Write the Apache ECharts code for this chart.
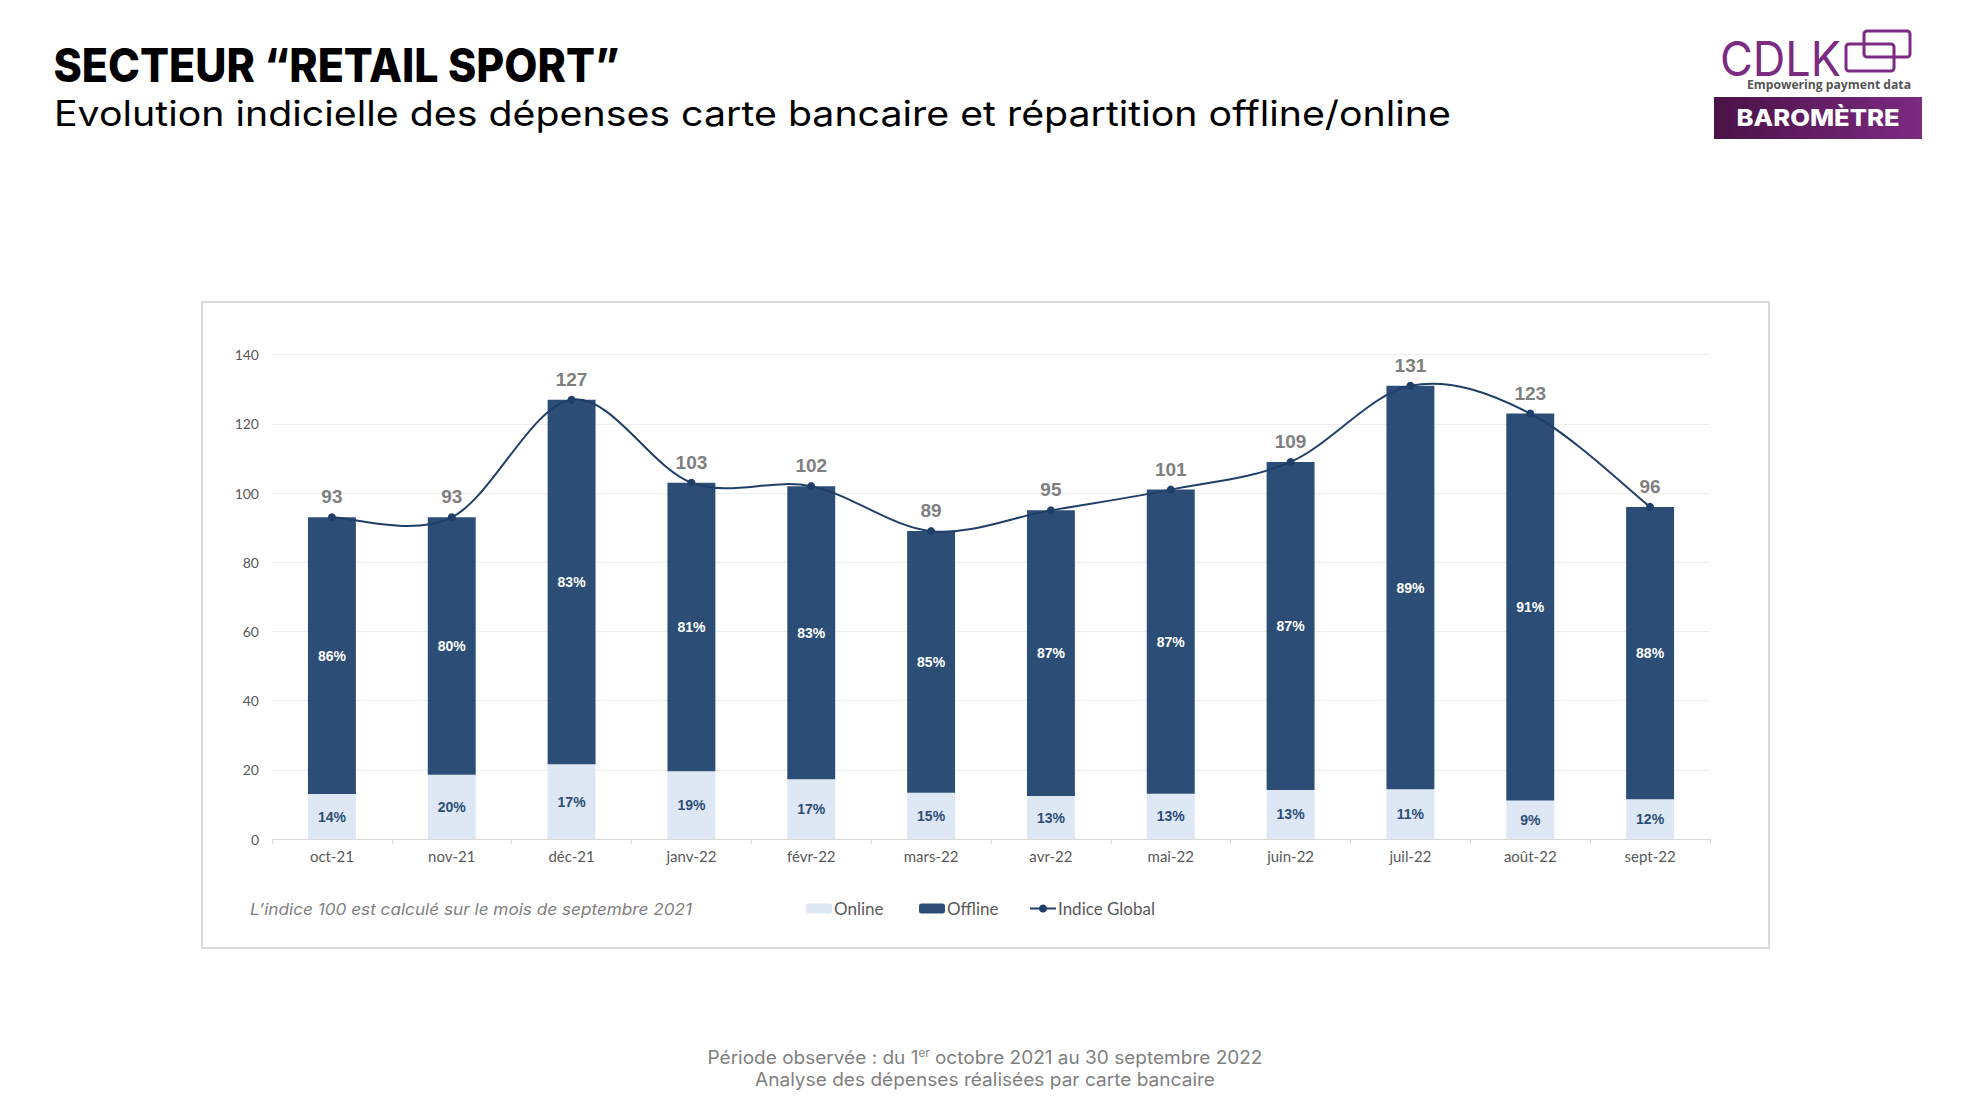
<!DOCTYPE html>
<html>
<head>
<meta charset="utf-8">
<script src="https://cdn.jsdelivr.net/npm/echarts@6/dist/echarts.min.js"></script>
<style>
  html, body { margin: 0; padding: 0; background: #ffffff; }
  #page { position: relative; width: 1972px; height: 1110px; overflow: hidden; }
  #deco { position: absolute; left: 0; top: 0; }
  #chart { position: absolute; left: 0; top: 0; width: 1972px; height: 1110px; }
</style>
</head>
<body>
<div id="page">
  <svg id="deco" width="1972" height="1110" xmlns="http://www.w3.org/2000/svg">
    <defs>
      <linearGradient id="baro" x1="0" y1="0" x2="1" y2="0">
        <stop offset="0" stop-color="#4a1246"/>
        <stop offset="1" stop-color="#7c2a82"/>
      </linearGradient>
    </defs>
    <!-- Titles -->
    <text x="53.5" y="81.5" font-family="Inter, 'Open Sans', sans-serif" font-weight="800" font-size="46" fill="#000" textLength="566" lengthAdjust="spacingAndGlyphs">SECTEUR “RETAIL SPORT”</text>
    <text x="54" y="125.7" font-family="Inter, 'Open Sans', sans-serif" font-weight="400" font-size="35" fill="#000" textLength="1397" lengthAdjust="spacingAndGlyphs">Evolution indicielle des dépenses carte bancaire et répartition offline/online</text>
    <!-- Logo -->
    <text x="1720" y="76" font-family="Inter, 'Open Sans', sans-serif" font-weight="400" font-size="48" fill="#7b2b83" textLength="121" lengthAdjust="spacingAndGlyphs">CDLK</text>
    <rect x="1846" y="44" width="48" height="27" rx="3" fill="none" stroke="#7b2b83" stroke-width="3"/>
    <rect x="1864" y="31" width="46" height="26" rx="3" fill="none" stroke="#7b2b83" stroke-width="3"/>
    <text x="1747" y="89" font-family="'Open Sans', Inter, sans-serif" font-weight="700" font-size="12" fill="#555555" textLength="164" lengthAdjust="spacingAndGlyphs">Empowering payment data</text>
    <rect x="1714" y="97" width="208" height="42" fill="url(#baro)"/>
    <text x="1818" y="126" text-anchor="middle" font-family="Inter, 'Open Sans', sans-serif" font-weight="800" font-size="23" fill="#ffffff" textLength="163" lengthAdjust="spacingAndGlyphs">BAROMÈTRE</text>
    <!-- Chart frame -->
    <rect x="202" y="302" width="1567" height="646" fill="none" stroke="#d9d9d9" stroke-width="2"/>
    <!-- Note -->
    <text x="250" y="915" font-family="Inter, 'Open Sans', sans-serif" font-style="italic" font-size="16" fill="#7f7f7f" textLength="442" lengthAdjust="spacingAndGlyphs">L’indice 100 est calculé sur le mois de septembre 2021</text>
    <!-- Footer -->
    <text x="985" y="1064" text-anchor="middle" font-family="Inter, 'Open Sans', sans-serif" font-size="18" fill="#7f7f7f" textLength="555" lengthAdjust="spacingAndGlyphs">Période observée : du 1<tspan font-size="11" dy="-7">er</tspan><tspan dy="7"> octobre 2021 au 30 septembre 2022</tspan></text>
    <text x="985" y="1085.5" text-anchor="middle" font-family="Inter, 'Open Sans', sans-serif" font-size="18" fill="#7f7f7f" textLength="460" lengthAdjust="spacingAndGlyphs">Analyse des dépenses réalisées par carte bancaire</text>
  </svg>
  <div id="chart"></div>
</div>
<script>
// ---- Data ----
const categories = ['oct-21', 'nov-21', 'déc-21', 'janv-22', 'févr-22', 'mars-22', 'avr-22', 'mai-22', 'juin-22', 'juil-22', 'août-22', 'sept-22'];
const indiceGlobal = [93, 93, 127, 103, 102, 89, 95, 101, 109, 131, 123, 96];
const onlineValues = [13.0, 18.6, 21.6, 19.6, 17.3, 13.4, 12.4, 13.1, 14.2, 14.4, 11.1, 11.5];
const offlineValues = [80.0, 74.4, 105.4, 83.4, 84.7, 75.6, 82.6, 87.9, 94.8, 116.6, 111.9, 84.5];
const onlineShare = [14, 20, 17, 19, 17, 15, 13, 13, 13, 11, 9, 12];
const offlineShare = [86, 80, 83, 81, 83, 85, 87, 87, 87, 89, 91, 88];
const yAxisMin = 0, yAxisMax = 140, yAxisStep = 20;

const seriesNames = ['Online', 'Offline', 'Indice Global'];
const colOnline = '#dee8f4', colOffline = '#2c4e76', colLine = '#203f68';
const axisFont = 'Lato, "Noto Sans", sans-serif';
const labelFont = '"Liberation Sans Narrow", "Liberation Sans", sans-serif';
const nPts = indiceGlobal.length;

// Spreadsheet-style smoothed curve (Catmull-Rom Bezier), each segment from point i to i+1,
// positioned through the chart's own coordinate system.
function renderCurveSegment(params, api) {
  const i = params.dataIndex;
  if (i >= nPts - 1) return { type: 'group', children: [] };
  const P = k => {
    const kk = Math.max(0, Math.min(nPts - 1, k));
    return api.coord([kk, indiceGlobal[kk]]);
  };
  const p0 = P(i - 1), p1 = P(i), p2 = P(i + 1), p3 = P(i + 2);
  const c1x = p1[0] + (p2[0] - p0[0]) / 6, c1y = p1[1] + (p2[1] - p0[1]) / 6;
  const c2x = p2[0] - (p3[0] - p1[0]) / 6, c2y = p2[1] - (p3[1] - p1[1]) / 6;
  return {
    type: 'bezierCurve',
    shape: { x1: p1[0], y1: p1[1], cpx1: c1x, cpy1: c1y, cpx2: c2x, cpy2: c2y, x2: p2[0], y2: p2[1] },
    style: { stroke: colLine, lineWidth: 2, fill: null }
  };
}

const chart = echarts.init(document.getElementById('chart'), null, { renderer: 'svg' });
chart.setOption({
  animation: false,
  backgroundColor: 'transparent',
  grid: { left: 272, right: 262, top: 354.7, bottom: 271 },
  legend: [
    { data: [seriesNames[0]], left: 801, top: 895 },
    { data: [seriesNames[1]], left: 914, top: 895 },
    { data: [seriesNames[2]], left: 1024, top: 895, lineStyle: { color: colLine, width: 2, opacity: 1 } }
  ].map(l => Object.assign(l, {
    itemWidth: 26, itemHeight: 10, itemGap: 0,
    textStyle: { fontFamily: axisFont, fontSize: 17, color: '#595959', padding: [0, 0, 0, -3] }
  })),
  xAxis: {
    type: 'category',
    data: categories,
    axisLine: { lineStyle: { color: '#d9d9d9', width: 1 } },
    axisTick: { show: true, alignWithLabel: false, length: 5, lineStyle: { color: '#d9d9d9' } },
    axisLabel: { color: '#595959', fontFamily: axisFont, fontSize: 15, margin: 9 }
  },
  yAxis: {
    type: 'value',
    min: yAxisMin, max: yAxisMax, interval: yAxisStep,
    axisLine: { show: false },
    axisTick: { show: false },
    splitLine: { lineStyle: { color: '#efefef', width: 1 } },
    axisLabel: { color: '#595959', fontFamily: axisFont, fontSize: 14, margin: 13 }
  },
  series: [
    {
      name: seriesNames[0], type: 'bar', stack: 'total', data: onlineValues,
      barWidth: '40%', itemStyle: { color: colOnline },
      label: {
        show: true, position: 'inside', color: colOffline, fontFamily: labelFont,
        fontWeight: 'bold', fontSize: 14,
        formatter: p => onlineShare[p.dataIndex] + '%'
      }
    },
    {
      name: seriesNames[1], type: 'bar', stack: 'total', data: offlineValues,
      barWidth: '40%', itemStyle: { color: colOffline },
      label: {
        show: true, position: 'inside', color: '#ffffff', fontFamily: labelFont,
        fontWeight: 'bold', fontSize: 14,
        formatter: p => offlineShare[p.dataIndex] + '%'
      }
    },
    {
      name: 'Indice Global (courbe)', type: 'custom', silent: true, z: 4,
      data: indiceGlobal.map((v, i) => [i, v]),
      encode: { x: 0, y: 1 },
      renderItem: renderCurveSegment
    },
    {
      name: seriesNames[2], type: 'line', data: indiceGlobal, z: 5,
      symbol: 'circle', symbolSize: 8,
      itemStyle: { color: colLine },
      lineStyle: { color: colLine, width: 2, opacity: 0 },
      label: {
        show: true, position: 'top', distance: 7, color: '#7f7f7f',
        fontFamily: labelFont, fontWeight: 'bold', fontSize: 19
      }
    }
  ]
});
</script>
</body>
</html>
